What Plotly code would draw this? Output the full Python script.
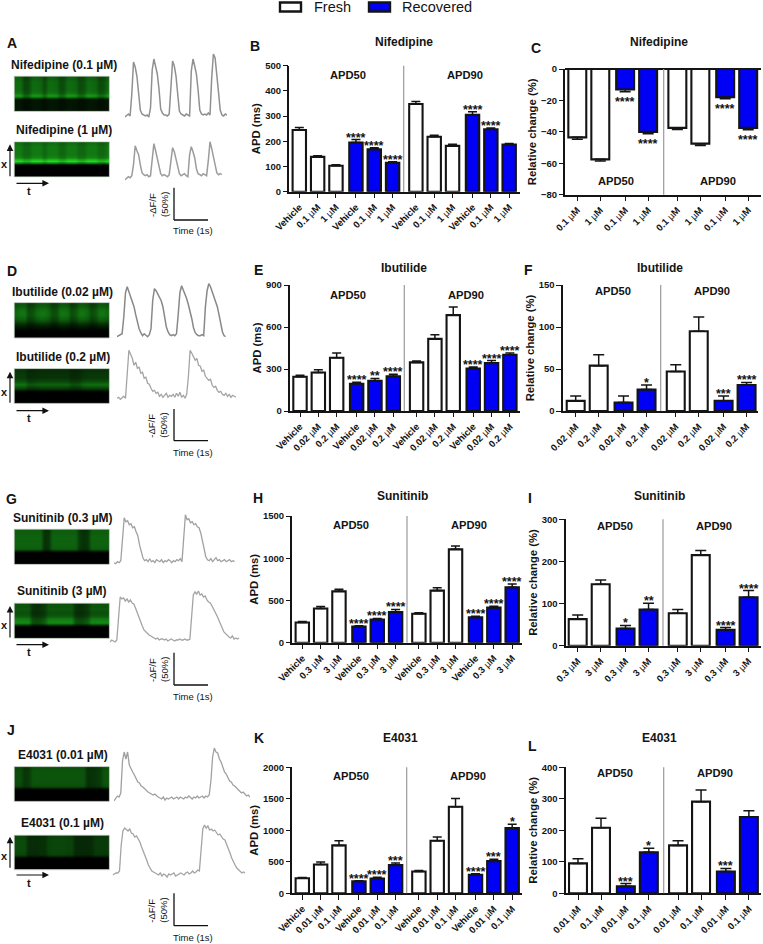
import plotly.graph_objects as go

W, H = 763, 944
FONT = "Liberation Sans"
INK = "#141414"
BLUE = "#0000f5"

# ---------- bar data ----------
nif_apd = [245, 138, 103, 195, 168, 115, 348, 218, 182, 305, 248, 187]
nif_apd_err = [10, 5, 4, 12, 6, 4, 10, 6, 6, 12, 5, 4]
nif_apd_stars = ["", "", "", "****", "****", "****", "", "", "", "****", "****", ""]
nif_apd_labels = ["Vehicle", "0.1 µM", "1 µM"] * 4

nif_rel = [-43.5, -57.5, -13, -40, -37.5, -47.5, -18, -37.5]
nif_rel_err = [1.2, 1, 1.5, 1.2, 1, 1.2, 1, 1.2]
nif_rel_stars = ["", "", "****", "****", "", "", "****", "****"]
nif_rel_labels = ["0.1 µM", "1 µM"] * 4

ibu_apd = [245, 275, 380, 195, 215, 248, 347, 515, 685, 303, 342, 402]
ibu_apd_err = [10, 20, 35, 10, 18, 15, 10, 30, 58, 12, 18, 12]
ibu_apd_stars = ["", "", "", "****", "**", "****", "", "", "", "****", "****", "****"]
ibu_apd_labels = ["Vehicle", "0.02 µM", "0.2 µM"] * 4

ibu_rel = [12, 54, 10, 25.5, 47, 95, 12, 31]
ibu_rel_err = [6, 13, 8, 5.5, 8, 17, 6, 3]
ibu_rel_stars = ["", "", "", "*", "", "", "***", "****"]
ibu_rel_labels = ["0.02 µM", "0.2 µM"] * 4

sun_apd = [240, 405, 608, 190, 275, 362, 343, 617, 1105, 300, 415, 655]
sun_apd_err = [12, 25, 25, 12, 12, 32, 12, 35, 40, 14, 18, 40]
sun_apd_stars = ["", "", "", "****", "****", "****", "", "", "", "****", "****", "****"]
sun_apd_labels = ["Vehicle", "0.3 µM", "3 µM"] * 4

sun_rel = [63, 146, 41, 86, 77, 215, 38, 115]
sun_rel_err = [10, 10, 7, 15, 9, 11, 5, 16]
sun_rel_stars = ["", "", "*", "**", "", "", "****", "****"]
sun_rel_labels = ["0.3 µM", "3 µM"] * 4

e40_apd = [240, 457, 760, 190, 235, 447, 345, 835, 1375, 295, 510, 1035]
e40_apd_err = [12, 40, 75, 10, 20, 35, 15, 60, 130, 15, 30, 60]
e40_apd_stars = ["", "", "", "****", "****", "***", "", "", "", "****", "***", "*"]
e40_apd_labels = ["Vehicle", "0.01 µM", "0.1 µM"] * 4

e40_rel = [95, 208, 22, 130, 152, 291, 69, 242]
e40_rel_err = [15, 30, 9, 13, 15, 37, 10, 20]
e40_rel_stars = ["", "", "***", "*", "", "", "***", ""]
e40_rel_labels = ["0.01 µM", "0.1 µM"] * 4

fresh_12 = [True, True, True, False, False, False] * 2
fresh_8 = [True, True, False, False] * 2

# ---------- optical traces (signal above baseline, sampled every 0.05 s) ----------
trace_a1 = [-1,1,2,0,22, 54,49,40,24,6,2,1, 0,1,-1,8, 46,57,50,42,27,7,3, 1,1,0,2,
            30,55,50,40,22,5,2, 1,0,2,1,0, 45,57,50,42,26,6,2, 1,2,1,3,1,
            38,62,58,44,24,6,1,0, 2,1]
trace_a2 = [-3,-1,0,-1,1, 12,31,26,22,12,4,2, 1,2,0,1, 20,33,26,18,8,3,1, 2,1,0,2,
            18,29,25,18,9,3,1, 2,3,1,0, 22,30,25,19,8,3,2, 1,3,2,1,
            16,35,28,20,10,4,2,3, 2]
trace_d1 = [0,1,2,3,20, 44,50,45,40,35,30,22,14,8,4,1,3, 1,0,2, 8,36,
            48,46,43,39,36,30,20,10,5,2,1,2, 1,3, 22,44,
            51,47,42,38,32,26,18,9,4,2,1,1, 2,1, 30,46,
            53,50,45,40,36,30,22,12,5,1,0]
trace_d2 = [0,1,-1,1,2,0, 24,48, 44,40,33,36,30,31,25,26,20,21,15,14,10,7,8,5,6,
            2,4,1,3,5,1,3,2,4,1,5,2,6,1,3,0,4, 22,48,
            45,41,38,40,33,32,27,28,22,20,18,19,13,11,12,8,6,7,4, 3,5,2,4,1,3,2,1]
trace_g1 = [0,-1,1,0,2, 24,45, 41,42,38,39,35,36,31,27,18,10,5,
            2,3,1,4,1,2,0,3,2,1,3,0,2,1,3,2,0,2,1,3,2,4,1, 28,48,
            43,44,40,41,38,39,36,35,30,22,12,6, 3,2,4,1,3,5,2,3,1,2,3,1,2,3,1,2,1]
trace_g2 = [-1,1,0,-1,1, 26,44, 42,43,40,42,39,41,38,37,33,28,24,19,15,11,9,7,6,5,4,
            3,2,3,1,2,2,1,2,0,1,2,1,0,1,1,2,1,1,2,1,1,2, 28,46,49,
            47,50,46,47,44,45,41,39,38,35,32,28,25,21,16,13,9,7,5,4, 3,5,2,3,2,3]
trace_j1 = [-2,1,3,2,6, 38,47, 40,47,34,30,27,24,21,17,16,13,12,10,8,7,6,5,4,5,3,2,1,
            0,2,-1,1,0,1,2,0,1,2,0,2,1,0,2,1,3,1,0,2,1,3,1,2,3,1,3,2,4, 18,42,51,
            47,46,40,37,31,27,25,22,18,17,14,13,11,9,8,6,7,5,3,4,2]
trace_j2 = [0,1,2,2,4, 30,44,47, 45,44,46,42,41,38,39,36,33,28,24,20,15,10,7,4,3,
            2,1,0,2,-1,1,0,-2,1,0,1,2,-1,0,1,2,1,0,2,3,1,2,4,2,3,5,4, 30,46,50,
            47,49,45,46,44,45,42,40,41,38,36,35,31,27,22,17,13,10,7,5,3, 2,3,2]

# ---------- line-scan images: brightness by depth and by time ----------
img_a1_rows = [.42,.46,.46,.46,.5,.7,.1,.09,.09,.09]
img_a1_cols = [1,1,.65,.7,1,1,.95,.7,1,1,.95,.7,.75,1,1,.95,.7,.75,1,1,.95,.7,.75,1]
img_a2_rows = [.48,.52,.52,.52,.58,.95,.04,0,0,0]
img_a2_cols = [1,1,.85,.85,1,1,1,.85,1,1,1,.85,.85,1,1,1,.85,.85,1,1,1,.85,.85,1]
img_d1_rows = [.38,.46,.5,.5,.42,.28,.13,.03,0,0]
img_d1_cols = [.9,1,1,.65,.7,.9,1,1,.9,.65,.7,1,1,.95,.65,.75,1,1,.9,.65,.75,1,1,.9]
img_d2_rows = [.22,.25,.25,.34,.52,.32,0,0,0,0]
img_d2_cols = [1,1,1,.75,.75,.8,.85,.85,.85,.85,.85,.85,.85,.85,.7,.7,.75,.9,.95,.95,.95,.95,.95,.95]
img_g1_rows = [.4,.42,.43,.42,.42,.4,0,0,0,0]
img_g1_cols = [1,1,1,1,1,1,1,.5,.55,1,1,1,1,1,1,1,.6,.5,.55,1,1,1,1,1]
img_g2_rows = [.36,.38,.34,.38,.55,.6,.02,0,0,0]
img_g2_cols = [1,1,1,1,.6,.55,.6,.7,1,1,1,1,1,1,1,.6,.55,.6,.7,1,1,1,1,1]
img_j1_rows = [.34,.36,.36,.36,.36,.34,0,0,0,0]
img_j1_cols = [.9,.9,.65,.7,1,1,1,1,1,1,1,1,1,1,1,1,1,1,.6,.6,.65,.7,1,1]
img_j2_rows = [.3,.32,.32,.32,.32,.3,0,0,0,0]
img_j2_cols = [1,1,1,.6,.6,.6,.65,.65,.9,.95,.95,.95,.95,.9,.9,.55,.55,.55,.55,.6,.8,.8,.8,.8]

BLACK_GREEN = [[0, "#000000"], [1, "#22e622"]]

X = lambda x: x / W
Y = lambda y: 1 - y / H

fig = go.Figure()
layout = {}
annos = []
shapes = []
axis_n = 0


def new_axes():
    global axis_n
    axis_n += 1
    return axis_n


def text(s, x, y, size, bold=True, color=INK, angle=0, xanchor="center"):
    if bold:
        s = f"<b>{s}</b>"
    annos.append(dict(text=s, x=X(x), y=Y(y), xref="paper", yref="paper", showarrow=False,
                      xanchor=xanchor, yanchor="middle", textangle=angle,
                      font=dict(family=FONT, size=size, color=color), borderpad=0))


def arrow(x0, y0, x1, y1):
    annos.append(dict(x=X(x1), y=Y(y1), ax=x0 - x1, ay=y0 - y1, xref="paper", yref="paper",
                      axref="pixel", ayref="pixel", text="", showarrow=True, arrowhead=2,
                      arrowsize=1.1, arrowwidth=1.2, arrowcolor="#111111"))


POS_12 = [0, 1, 2, 3.09, 4.09, 5.09, 6.36, 7.36, 8.36, 9.45, 10.45, 11.45]
POS_8 = [0, 1, 2.08, 3.08, 4.35, 5.35, 6.43, 7.43]


def bar_panel(vals, errs, stars, labels, is_fresh, geom, yr, dtick, ytitle):
    left, right, top, bottom, x0, unit, divider = geom
    pos = POS_12 if len(vals) == 12 else POS_8
    n = new_axes()
    xid, yid = f"x{n}", f"y{n}"
    negative = yr[1] <= 0
    barw = 0.73 if len(vals) == 12 else 0.78
    for name, flag, col in (("Fresh", True, "white"), ("Recovered", False, BLUE)):
        idx = [i for i, f in enumerate(is_fresh) if f == flag]
        e = [errs[i] for i in idx]
        zero = [0] * len(idx)
        fig.add_trace(go.Bar(
            x=[pos[i] for i in idx], y=[vals[i] for i in idx], name=name, width=barw,
            marker=dict(color=col, line=dict(color=INK, width=2.1)),
            error_y=dict(type="data", symmetric=False,
                         array=zero if negative else e, arrayminus=e if negative else zero,
                         color=INK, thickness=1.5, width=4.5 if len(vals) == 12 else 5.5),
            xaxis=xid, yaxis=yid, showlegend=False))
    layout[f"xaxis{n}"] = dict(
        domain=[X(left), X(right)], anchor=yid,
        range=[(left - x0) / unit, (right - x0) / unit],
        tickmode="array", tickvals=pos,
        ticktext=[l.replace("µM", "</b>µ<b>M") .join(["<b>", "</b>"]) for l in labels],
        tickangle=-45, ticks="outside", ticklen=4.5, tickwidth=1.4, tickcolor=INK,
        showline=True, linewidth=1.6, linecolor=INK, showgrid=False, zeroline=False,
        tickfont=dict(family=FONT, size=9.5, color=INK))
    layout[f"yaxis{n}"] = dict(
        domain=[Y(bottom), Y(top)], anchor=xid, range=yr, dtick=dtick, tick0=0,
        ticks="outside", ticklen=4.5, tickwidth=1.4, tickcolor=INK,
        showline=True, linewidth=1.6, linecolor=INK, showgrid=False,
        zeroline=negative, zerolinecolor=INK, zerolinewidth=1.6,
        tickfont=dict(family=FONT, size=9.5, color=INK, weight=700),
        title=dict(text=ytitle, standoff=2, font=dict(family=FONT, size=11.3, color=INK, weight=700)))
    shapes.append(dict(type="line", xref="paper", yref="paper", x0=X(divider), x1=X(divider),
                       y0=Y(bottom), y1=Y(top), line=dict(color="#9a9a9a", width=1.2)))
    for i, s in enumerate(stars):
        if not s:
            continue
        yv = vals[i] - errs[i] if negative else vals[i] + errs[i]
        annos.append(dict(text=f"<b>{s}</b>", x=pos[i], y=yv, xref=xid, yref=yid, showarrow=False,
                          xanchor="center", yanchor="middle", yshift=-10 if negative else 2,
                          font=dict(family=FONT, size=12.5, color=INK), borderpad=0))


def trace_panel(vals, x0, base, color, lw=1.5):
    n = new_axes()
    step_px, dt = 1.7, 0.05
    t = [i * dt for i in range(len(vals))]
    fig.add_trace(go.Scatter(x=t, y=vals, mode="lines", line=dict(color=color, width=lw),
                             xaxis=f"x{n}", yaxis=f"y{n}", showlegend=False))
    layout[f"xaxis{n}"] = dict(domain=[X(x0), X(x0 + (len(vals) - 1) * step_px)], anchor=f"y{n}",
                               range=[0, t[-1]], visible=False)
    layout[f"yaxis{n}"] = dict(domain=[Y(base + 8), Y(base - 68)], anchor=f"x{n}",
                               range=[-8, 68], visible=False)


def image_panel(rows, cols, top, bottom, left=14.3, right=109.3):
    n = new_axes()
    z = [[r * c for c in cols] for r in rows]
    fig.add_trace(go.Heatmap(z=z, zmin=0, zmax=1, colorscale=BLACK_GREEN, showscale=False,
                             zsmooth="best", xaxis=f"x{n}", yaxis=f"y{n}", hoverinfo="skip"))
    layout[f"xaxis{n}"] = dict(domain=[X(left), X(right)], anchor=f"y{n}",
                               range=[-0.5, len(cols) - 0.5], visible=False)
    layout[f"yaxis{n}"] = dict(domain=[Y(bottom), Y(top)], anchor=f"x{n}",
                               range=[len(rows) - 0.5, -0.5], visible=False)
    shapes.append(dict(type="rect", xref="paper", yref="paper", x0=X(left), x1=X(right),
                       y0=Y(bottom), y1=Y(top), line=dict(color="rgba(140,160,140,0.7)", width=0.8),
                       layer="above"))


def scale_bar(top, bottom, text_y, time_y):
    shapes.append(dict(type="line", xref="paper", yref="paper", x0=X(174), x1=X(174), y0=Y(top), y1=Y(bottom),
                       line=dict(color="#111111", width=1.3)))
    shapes.append(dict(type="line", xref="paper", yref="paper", x0=X(174), x1=X(208), y0=Y(bottom), y1=Y(bottom),
                       line=dict(color="#111111", width=1.3)))
    text("-ΔF/F", 152, text_y, 9.5, bold=False, angle=-90)
    text("(50%)", 164, text_y, 9.5, bold=False, angle=-90)
    text("Time (1s)", 192.7, time_y, 9.5, bold=False)


def axes_marks(v_bottom, v_top, h_y, x_y, t_y):
    arrow(10, v_bottom, 10, v_top)
    arrow(15, h_y, 49, h_y)
    text("x", 4.3, x_y, 11)
    text("t", 29, t_y, 11)


# ---------- legend ----------
shapes.append(dict(type="rect", xref="paper", yref="paper", x0=X(280), x1=X(301), y0=Y(11.5), y1=Y(2.5),
                   fillcolor="white", line=dict(color=INK, width=2.4)))
shapes.append(dict(type="rect", xref="paper", yref="paper", x0=X(369), x1=X(390), y0=Y(11.5), y1=Y(2.5),
                   fillcolor=BLUE, line=dict(color=INK, width=2.4)))
text("Fresh", 312.7, 7, 14.5, bold=False, xanchor="left")
text("Recovered", 400.7, 7, 14.5, bold=False, xanchor="left")

# ---------- row 1 ----------
text("A", 12, 43, 14)
text("Nifedipine (0.1 µM)", 64.3, 65, 12)
text("Nifedipine (1 µM)", 64.3, 130, 12)
image_panel(img_a1_rows, img_a1_cols, 76.3, 111.3)
image_panel(img_a2_rows, img_a2_cols, 142, 176.7)
trace_panel(trace_a1, 125, 116, "#909090")
trace_panel(trace_a2, 125, 176.7, "#9c9c9c")
axes_marks(177.7, 144.3, 183.3, 164, 191)
scale_bar(187.7, 220, 205, 231)

text("B", 254.7, 45.7, 14)
text("Nifedipine", 404.3, 42.3, 12)
text("APD50", 348, 75.3, 11.2)
text("APD90", 465.3, 75.3, 11.2)
bar_panel(nif_apd, nif_apd_err, nif_apd_stars, nif_apd_labels, fresh_12,
          (289.3, 519.7, 65.7, 191.7, 299.3, 18.33, 403.7), [0, 500], 100, "APD (ms)")

text("C", 535.7, 47.7, 14)
text("Nifedipine", 659.3, 41.7, 12)
text("APD50", 616, 180.7, 11.2)
text("APD90", 718.3, 180.7, 11.2)
bar_panel(nif_rel, nif_rel_err, nif_rel_stars, nif_rel_labels, fresh_8,
          (565.3, 760.7, 69, 194.7, 577.3, 23, 663.7), [-80, 0], 20, "Relative change (%)")

# ---------- row 2 ----------
text("D", 12, 271, 14)
text("Ibutilide (0.02 µM)", 62.3, 291.7, 12)
text("Ibutilide (0.2 µM)", 63, 357.3, 12)
image_panel(img_d1_rows, img_d1_cols, 302.7, 338)
image_panel(img_d2_rows, img_d2_cols, 368.7, 403.3)
trace_panel(trace_d1, 117, 336.7, "#888888")
trace_panel(trace_d2, 117, 398.3, "#a4a4a4", 1.3)
axes_marks(404.3, 371.7, 410.7, 391.7, 418)
scale_bar(409, 440.7, 425.7, 452.7)

text("E", 258, 270, 14)
text("Ibutilide", 404.3, 267.7, 12)
text("APD50", 348.3, 294.7, 11.2)
text("APD90", 465.7, 294.7, 11.2)
bar_panel(ibu_apd, ibu_apd_err, ibu_apd_stars, ibu_apd_labels, fresh_12,
          (290, 520, 285, 411, 300, 18.33, 404.3), [0, 900], 300, "APD (ms)")

text("F", 528.7, 270, 14)
text("Ibutilide", 660, 267.7, 12)
text("APD50", 613.3, 290.7, 11.2)
text("APD90", 712.3, 290.7, 11.2)
bar_panel(ibu_rel, ibu_rel_err, ibu_rel_stars, ibu_rel_labels, fresh_8,
          (562.7, 758, 285, 411, 575.7, 23, 660.7), [0, 150], 50, "Relative change (%)")

# ---------- row 3 ----------
text("G", 12, 499, 14)
text("Sunitinib (0.3 µM)", 63.3, 517.7, 12)
text("Sunitinib (3 µM)", 61.7, 591, 12)
image_panel(img_g1_rows, img_g1_cols, 529.3, 564.3)
image_panel(img_g2_rows, img_g2_cols, 603.3, 638.3)
trace_panel(trace_g1, 114, 562.7, "#a0a0a0", 1.3)
trace_panel(trace_g2, 110, 641, "#a4a4a4", 1.3)
axes_marks(639, 606, 644.7, 625, 652)
scale_bar(652.7, 685, 670, 696)

text("H", 257.5, 498, 14)
text("Sunitinib", 402, 496.5, 12)
text("APD50", 350.7, 525.3, 11.2)
text("APD90", 468.7, 525.3, 11.2)
bar_panel(sun_apd, sun_apd_err, sun_apd_stars, sun_apd_labels, fresh_12,
          (292.3, 522, 516, 642.7, 302.3, 18.33, 407), [0, 1500], 500, "APD (ms)")

text("I", 530, 498, 14)
text("Sunitinib", 659, 496.5, 12)
text("APD50", 615, 525.7, 11.2)
text("APD90", 714.3, 525.7, 11.2)
bar_panel(sun_rel, sun_rel_err, sun_rel_stars, sun_rel_labels, fresh_8,
          (565.7, 760.7, 519.3, 645.7, 577.7, 23, 663), [0, 300], 100, "Relative change (%)")

# ---------- row 4 ----------
text("J", 11, 730, 14)
text("E4031 (0.01 µM)", 63.3, 755, 12)
text("E4031 (0.1 µM)", 62.3, 823.3, 12)
image_panel(img_j1_rows, img_j1_cols, 766.7, 801.3)
image_panel(img_j2_rows, img_j2_cols, 835.3, 869.7)
trace_panel(trace_j1, 114, 799, "#a0a0a0", 1.3)
trace_panel(trace_j2, 112.7, 875, "#a4a4a4", 1.3)
axes_marks(869.3, 836.7, 875, 856, 883)
scale_bar(893.3, 925.7, 910.7, 937)

text("K", 258.5, 738.3, 14)
text("E4031", 400.7, 738.3, 12)
text("APD50", 350.7, 776.3, 11.2)
text("APD90", 468.3, 776.3, 11.2)
bar_panel(e40_apd, e40_apd_err, e40_apd_stars, e40_apd_labels, fresh_12,
          (292.3, 522, 767.3, 893.3, 302.3, 18.33, 406.7), [0, 2000], 500, "APD (ms)")

text("L", 532, 746.3, 14)
text("E4031", 659, 738.3, 12)
text("APD50", 615.3, 773.3, 11.2)
text("APD90", 715, 773.3, 11.2)
bar_panel(e40_rel, e40_rel_err, e40_rel_stars, e40_rel_labels, fresh_8,
          (565.7, 760.7, 767.3, 893.3, 578, 23, 663.7), [0, 400], 100, "Relative change (%)")

fig.update_layout(width=W, height=H, margin=dict(l=0, r=0, t=0, b=0, pad=0, autoexpand=False), autosize=False,
                  template="none",
                  paper_bgcolor="white", plot_bgcolor="rgba(0,0,0,0)", showlegend=False,
                  barmode="overlay", annotations=annos, shapes=shapes,
                  font=dict(family=FONT, color=INK), **layout)
fig.write_html("out.html", config=dict(displayModeBar=False),
               post_script="document.body.style.margin='0';")
